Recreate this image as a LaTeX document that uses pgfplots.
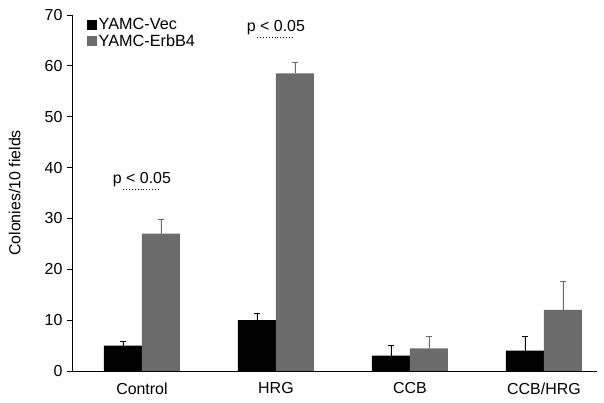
\documentclass[border=0pt]{standalone}
\usepackage{fontspec}
\setmainfont{Liberation Sans}
\usepackage{pgfplots}
\pgfplotsset{compat=1.18}
\definecolor{erb}{RGB}{107,107,107}
\begin{document}
\begin{tikzpicture}
\begin{axis}[
  name=ax,
  scale only axis, width=525bp, height=356bp,
  ybar=0pt, bar width=38bp,
  xmin=-0.522, xmax=3.396, ymin=0, ymax=70,
  xtick={0,1,2,3}, xticklabels={Control,HRG,CCB,CCB/HRG},
  ytick={0,10,...,70},
  axis x line*=bottom, axis y line*=left,
  axis line style={-, line width=0.9pt},
  xtick style={draw=none},
  ytick style={black, line width=0.9pt},
  tick align=outside, major tick length=5bp,
  tick label style={font=\fontsize{16}{19}\selectfont},
  /pgf/number format/assume math mode=true,
  yticklabel style={xshift=-1bp},
  xticklabel style={yshift=-3bp},
  ylabel={Colonies/10 fields},
  ylabel style={font=\fontsize{16}{19}\selectfont, at={(axis description cs:-0.109,0.5)}, anchor=center},
  legend style={at={(rel axis cs:0,1)}, anchor=north west, xshift=15bp, yshift=-1.5bp,
    draw=none, fill=none, font=\fontsize{16.3}{19}\selectfont, inner sep=0pt,
    row sep=0.5bp, nodes={inner sep=1.5bp}},
  legend cell align=left,
  legend image code/.code={\fill[#1] (0bp,-5bp) rectangle (10bp,5bp);},
]
\addplot[fill=black, draw=none,
  error bars/.cd, y dir=plus, y explicit, error mark=|,
  error bar style={black, line width=0.8pt},
  error mark options={black, line width=0.8pt, mark size=3bp}]
  coordinates {(0,5) +- (0,0.75) (1,10) +- (0,1.4) (2,3) +- (0,2.1) (3,4) +- (0,2.9)};
\addplot[fill=erb, draw=none,
  error bars/.cd, y dir=plus, y explicit, error mark=|,
  error bar style={erb, line width=0.8pt},
  error mark options={erb, line width=0.8pt, mark size=3bp}]
  coordinates {(0,27) +- (0,2.8) (1,58.5) +- (0,2.25) (2,4.45) +- (0,2.3) (3,12) +- (0,5.7)};
\legend{YAMC-Vec, YAMC-ErbB4}
\draw[dotted, line width=0.9pt] (axis cs:-0.14,35.6) -- (axis cs:0.14,35.6);
\draw[dotted, line width=0.9pt] (axis cs:0.86,65.6) -- (axis cs:1.14,65.6);
\node[font=\fontsize{16}{19}\selectfont] at (axis cs:0,37.6) {p < 0.05};
\node[font=\fontsize{16}{19}\selectfont] at (axis cs:1,67.5) {p < 0.05};
\end{axis}
\pgfresetboundingbox
\path[use as bounding box] ([shift={(-72bp,-32bp)}]ax.south west) rectangle ([shift={(7bp,15bp)}]ax.north east);
\end{tikzpicture}
\end{document}
